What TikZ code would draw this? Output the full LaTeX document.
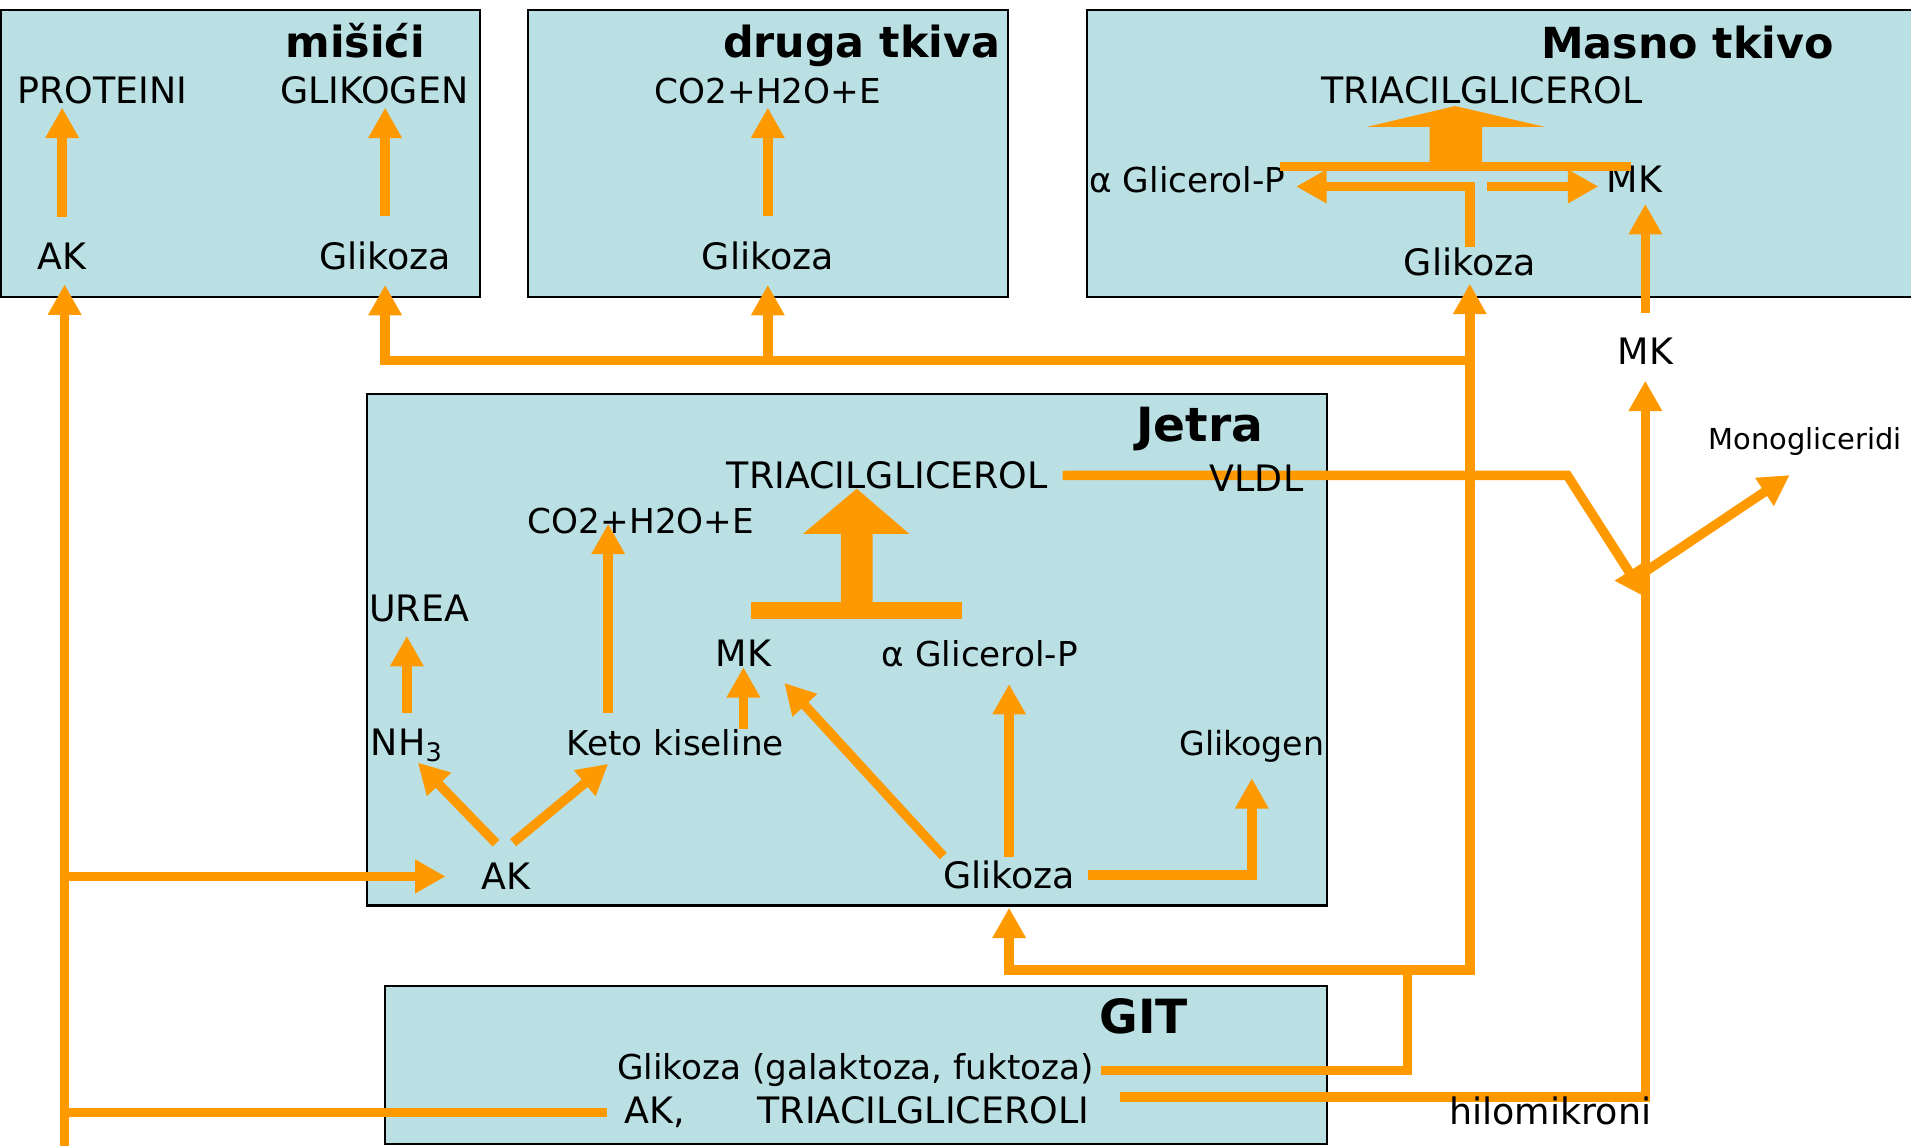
\documentclass[tikz,border=0pt]{standalone}
\usepackage{fontspec}
\setmainfont{DejaVu Sans}
\usetikzlibrary{arrows.meta}
\definecolor{tkivo}{RGB}{186,224,227}
\definecolor{strel}{RGB}{255,153,0}

\begin{document}
\begin{tikzpicture}[x=0.02cm, y=-0.02cm,
  >={Triangle[length=0.5cm,width=0.52cm]},
  box/.style={draw=black, line width=1pt, fill=tkivo},
  lbl/.style={inner sep=0pt, anchor=base, font=\fontsize{17}{20}\selectfont},
  lbls/.style={lbl, font=\fontsize{16}{19}\selectfont},
  ttl/.style={inner sep=0pt, anchor=base east, font=\fontsize{20}{24}\selectfont\bfseries},
  tok/.style={draw=strel, line width=0.155cm},
  arr/.style={tok, ->}]
  \useasboundingbox (0,0) rectangle (1568,940);

  % boxes
  \draw[box] (1,8) rectangle (394,244);
  \draw[box] (433,8) rectangle (827,244);
  \draw[box] (892,8) rectangle (1600,244);
  \draw[box] (301,323) rectangle (1089,743);
  \draw[box] (316,809) rectangle (1089,939);

  % misici
  \node[ttl] (mTtl) at (349,47) {mišići};
  \node[lbl] (mPro) at (84,85) {PROTEINI};
  \node[lbl] (mGlg) at (307,85) {GLIKOGEN};
  \node[lbl] (mAK) at (51,221) {AK};
  \node[lbl] (mGlk) at (316,221) {Glikoza};

  % druga tkiva
  \node[ttl] (dTtl) at (821,47) {druga tkiva};
  \node[lbls] (dCO) at (630,85) {CO2+H2O+E};
  \node[lbl] (dGlk) at (630,221) {Glikoza};

  % masno tkivo
  \node[ttl] (sTtl) at (1505,48) {Masno tkivo};
  \node[lbl] (sTAG) at (1216,85) {TRIACILGLICEROL};
  \node[lbls, anchor=base east] (sGP) at (1055,158) {α Glicerol-P};
  \node[lbl] (sMK) at (1341,158) {MK};
  \node[lbl] (sGlk) at (1206,226) {Glikoza};
  \node[lbl] (oMK) at (1350,299) {MK};

  % jetra
  \node[ttl, font=\fontsize{22}{26}\selectfont\bfseries] (jTtl) at (1037,362) {Jetra};
  \node[lbl] (jTAG) at (728,401) {TRIACILGLICEROL};
  \node[lbls] (jCO) at (526,438) {CO2+H2O+E};
  \node[lbl] (jUrea) at (344,510) {UREA};
  \node[lbl] (jMK) at (610,547) {MK};
  \node[lbls] (jGP) at (804,547) {α Glicerol-P};
  \node[lbl, anchor=base west] (jNH) at (304,620) {NH\textsubscript{3}};
  \node[lbls] (jKeto) at (554,620) {Keto kiseline};
  \node[lbl, anchor=base east, font=\fontsize{15.5}{18}\selectfont] (jGlg) at (1087,620) {Glikogen};
  \node[lbl] (jAK) at (415,730) {AK};
  \node[lbl] (jGlk) at (828,729) {Glikoza};

  % GIT
  \node[ttl, font=\fontsize{22}{26}\selectfont\bfseries] (gTtl) at (975,848) {GIT};
  \node[lbls] (gGlk) at (702,886) {Glikoza (galaktoza, fuktoza)};
  \node[lbl] (gAT) at (703,922) {AK,\hspace{2em}TRIACILGLICEROLI};
  \node[lbl, font=\fontsize{13.5}{16}\selectfont] (mono) at (1481,369) {Monogliceridi};

  % arrows in misici and druga tkiva
  \draw[arr, shorten <=0.42cm, shorten >=0.05cm] (mAK.north) -- (mAK.north |- mPro.south);
  \draw[arr, shorten <=0.41cm, shorten >=0.05cm] (mGlk.north) -- (mGlk.north |- mGlg.south);
  \draw[arr, shorten <=0.41cm, shorten >=0.05cm] (dGlk.north) -- (dCO.south);

  % masno tkivo
  \fill[strel] (1050,133) rectangle (1338,140);
  \fill[strel] (1173,133) -- (1173,104) -- (1122,104) -- (1194,87) -- (1267,104)
    -- (1216,104) -- (1216,133) -- cycle;
  \draw[arr, shorten >=0.17cm] (sGlk.north) |- ([yshift=-0.11cm]sGP.east);
  \coordinate (sRaz) at (1220,153);
  \draw[arr, shorten >=0.13cm] (sRaz) -- (sRaz -| sMK.west);
  \draw[arr, shorten <=0.4cm, shorten >=0.18cm] (oMK.north) -- (oMK.north |- sMK.south);

  % jetra
  \fill[strel] (616,494) rectangle (789,508);
  \fill[strel] (690,494) -- (690,438) -- (659,438) -- (703,401) -- (746,438)
    -- (716,438) -- (716,494) -- cycle;
  \draw[arr, shorten <=0.26cm, shorten >=0.22cm] (jNH.north) -- (jNH.north |- jUrea.south);
  \coordinate (ketoL) at ([xshift=-1.1cm]jKeto.north);
  \draw[arr, shorten <=0.27cm, shorten >=-0.18cm] (ketoL) -- (ketoL |- jCO.south);
  \draw[arr] (jMK.south |- jKeto.north) -- (jMK.south);
  \draw[arr] ([xshift=-0.16cm,yshift=0.32cm]jAK.north) -- ([xshift=0.18cm]jNH.south);
  \draw[arr] ([xshift=0.12cm,yshift=0.33cm]jAK.north) -- ([xshift=-1.1cm,yshift=-0.12cm]jKeto.south);
  \draw[arr] ([xshift=-1.08cm,yshift=0.07cm]jGlk.north) -- ([xshift=0.21cm,yshift=-0.26cm]jMK.south east);
  \draw[arr, shorten <=0.06cm, shorten >=0.27cm] (jGlk.north) -- (jGlk.north |- jGP.south);
  \draw[arr, shorten <=0.2cm, shorten >=0.25cm] (jGlk.east) -| (jGlg.south);

  % glikoza from GIT
  \coordinate (gRaz) at (1155,796);
  \coordinate (krv) at (sGlk.south |- 0,296);
  \draw[tok, shorten <=0.1cm] (gGlk.east) -| (gRaz);
  \draw[arr, shorten >=0.3cm] (gRaz) -| (jGlk.south);
  \draw[arr, shorten >=0.12cm] (gRaz) -| (sGlk.south);
  \draw[arr, shorten >=0.24cm] (krv) -| (mGlk.south);
  \draw[arr, shorten >=0.24cm] (dGlk.south |- krv) -- (dGlk.south);

  % AK from GIT
  \coordinate (akDno) at (53,945);
  \draw[arr, shorten >=0.24cm] (akDno) -- (akDno |- mAK.south);
  \draw[tok, shorten <=0.28cm] (gAT.west) -- (gAT.west -| akDno);
  \draw[arr, shorten >=0.58cm] (akDno |- jAK.west) -- (jAK.west);

  % hilomikroni and VLDL
  \draw[arr, shorten <=0.5cm, shorten >=0.26cm] ([yshift=0.25cm]gAT.east) -| (oMK.south);
  \node[lbl] (hilo) at (1272,923) {hilomikroni};
  \coordinate (vlK) at (1286,390);
  \coordinate (vlU) at (oMK.south |- 0,490);
  \coordinate (yRaz) at (oMK.south |- 0,469);
  \draw[arr, shorten <=0.24cm] (jTAG.east) -- (vlK) -- (vlU);
  \node[lbl] (jVLDL) at (1031,403) {VLDL};
  \draw[arr] (yRaz) -- ([xshift=-0.25cm,yshift=-0.31cm]mono.south);
\end{tikzpicture}
\end{document}
